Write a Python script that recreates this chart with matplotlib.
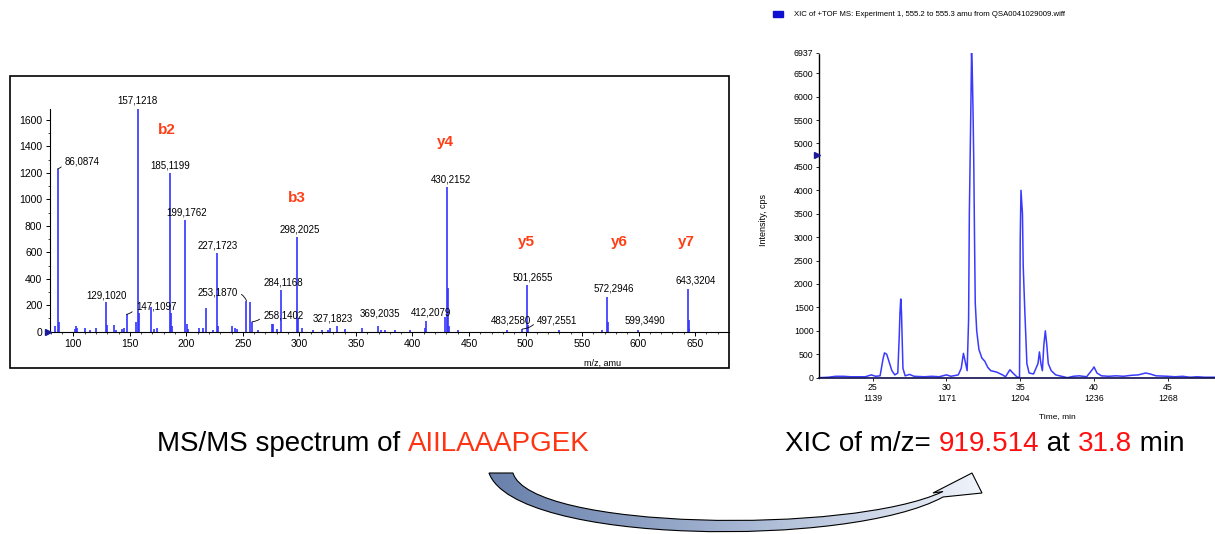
import numpy as np
import matplotlib
matplotlib.use("Agg")
import matplotlib.pyplot as plt
from matplotlib.path import Path
from matplotlib.patches import PathPatch, Rectangle
from matplotlib.colors import LinearSegmentedColormap

plt.rcParams['font.family'] = ['Liberation Sans', 'DejaVu Sans']

# ---- MS/MS spectrum (m/z, intensity) ----
ms_mz = [84.0, 86.0874, 87.1, 101.5, 102.1, 103.0, 110.1, 115.0, 120.1, 129.1020,
         130.1, 136.1, 138.0, 143.1, 145.0, 147.1097, 155.1, 157.1218, 158.1, 169.1,
         171.0, 174.0, 185.1199, 186.1, 187.1, 199.1762, 200.2, 201.2, 211.1, 215.0,
         217.1, 224.0, 227.1723, 228.2, 240.1, 243.0, 245.0, 253.1870, 256.2, 258.1402,
         263.0, 276.2, 277.0, 280.0, 284.1168, 298.2025, 299.2, 302.2, 312.0, 320.0,
         325.0, 327.1823, 333.2, 340.0, 355.0, 369.2035, 372.0, 376.0, 385.0, 398.0,
         411.2, 412.2079, 429.2, 430.2152, 431.2, 432.2, 440.0, 483.2580, 497.2551,
         501.2655, 502.3, 530.0, 568.0, 572.2946, 573.3, 599.3490, 643.3204, 644.3, 645.0]
ms_int = [45, 1230, 70, 20, 40, 25, 25, 15, 25, 227,
          50, 50, 15, 20, 25, 131, 70, 1680, 140, 190,
          20, 25, 1200, 140, 40, 845, 60, 20, 30, 25,
          180, 15, 593, 40, 40, 25, 20, 234, 225, 75,
          15, 55, 60, 20, 315, 718, 100, 30, 10, 10,
          15, 30, 45, 20, 25, 40, 15, 10, 10, 10,
          30, 83, 110, 1096, 330, 40, 10, 15, 20,
          353, 50, 10, 10, 265, 70, 15, 323, 88, 20]

# labelled peaks and where their labels sit (data units)
lab_mz = [157.1218, 185.1199, 199.1762, 227.1723, 298.2025, 284.1168, 129.1020,
          327.1823, 369.2035, 412.2079, 430.2152, 483.2580, 501.2655, 572.2946,
          599.3490, 643.3204]
lab_x = [156.7, 185.6, 200.4, 227.9, 300.2, 285.9, 129.2,
         329.3, 371.4, 416.1, 434.1, 487.3, 506.0, 578.3, 605.6, 650.7]
lab_y = [1744, 1255, 900, 648, 774, 373, 277,
         101, 136, 144, 1152, 88, 408, 328, 83, 386]

# labels with leader lines: peak, label x, label y, alignment
lead_mz = [86.0874, 147.1097, 253.1870, 258.1402, 497.2551]
lead_x = [92.7, 155.5, 245.2, 268.2, 510.4]
lead_y = [1290, 189, 295, 126, 88]
lead_ha = ['left', 'left', 'right', 'left', 'left']

ions = ['b2', 'b3', 'y4', 'y5', 'y6', 'y7']
ion_x = [183.2, 298.2, 429.6, 500.6, 582.9, 642.0]
ion_y = [1525, 1008, 1436, 680, 680, 680]

# ---- XIC trace ----
xic_t = [21.4, 22.0, 22.5, 23.0, 23.5, 24.0, 24.5, 24.9, 25.2, 25.5,
         25.7, 25.8, 25.95, 26.1, 26.3, 26.5, 26.7, 26.8, 26.85, 26.9,
         26.95, 27.0, 27.05, 27.2, 27.5, 27.8, 28.5, 29.0, 29.5, 30.0,
         30.3, 30.8, 31.0, 31.15, 31.3, 31.4, 31.5, 31.55, 31.65, 31.7,
         31.75, 31.8, 31.85, 31.9, 31.95, 32.05, 32.2, 32.4, 32.6, 32.8,
         33.0, 33.4, 33.8, 34.0, 34.3, 34.5, 34.8, 34.95, 35.0, 35.05,
         35.15, 35.2, 35.3, 35.45, 35.6, 35.9, 36.2, 36.3, 36.4, 36.5,
         36.6, 36.7, 36.8, 36.9, 37.1, 37.4, 37.8, 38.2, 38.6, 39.0,
         39.5, 39.9, 40.0, 40.2, 40.5, 41.0, 41.5, 42.0, 42.5, 43.0,
         43.5, 43.8, 44.2, 45.0, 45.5, 46.0, 46.5, 47.0, 47.5, 48.2]
xic_i = [0, 10, 30, 30, 20, 20, 20, 60, 30, 40,
         400, 530, 500, 350, 150, 60, 100, 900, 1400, 1680,
         1400, 800, 200, 40, 70, 30, 20, 30, 20, 60,
         30, 60, 200, 520, 300, 150, 1250, 3500, 5700, 6937,
         6500, 5700, 4600, 3000, 1600, 1000, 600, 420, 350, 220,
         150, 120, 60, 20, 170, 100, 10, 10, 3000, 4000,
         3500, 2400, 1500, 300, 100, 80, 300, 550, 300, 150,
         700, 1000, 700, 300, 150, 60, 30, 0, 30, 40,
         20, 180, 230, 100, 40, 30, 40, 30, 50, 60,
         100, 80, 40, 30, 20, 30, 10, 20, 10, 10]
xic_ticks = [25, 30, 35, 40, 45]
xic_scans = ['1139', '1171', '1204', '1236', '1268']
xic_yticks = [0, 500, 1000, 1500, 2000, 2500, 3000, 3500, 4000, 4500, 5000, 5500, 6000, 6500, 6937]

W, H = 1215, 534
fig = plt.figure(figsize=(W / 100, H / 100), dpi=100)

def px_axes(l, t, r, b):
    return fig.add_axes([l / W, 1 - b / H, (r - l) / W, (b - t) / H])

blue = '#3333ff'
red_ion = '#ff4016'

# ---------------- spectrum ----------------
ax = px_axes(50, 109.3, 729, 331.7)
ax.vlines(ms_mz, 0, ms_int, color=blue, lw=1.2)
ax.set_xlim(79.4, 680)
ax.set_ylim(0, 1681)
ax.spines[['top', 'right']].set_visible(False)
ax.spines[['left', 'bottom']].set_linewidth(0.8)
ax.set_xticks(np.arange(100, 651, 50))
ax.set_yticks(np.arange(0, 1601, 200))
ax.set_xticks(np.arange(80, 680, 10), minor=True)
ax.set_yticks(np.arange(0, 1681, 100), minor=True)
ax.tick_params(labelsize=7.5, length=3, width=0.7, pad=2.5)
ax.tick_params(which='minor', length=1.5, width=0.5)
ax.set_xlabel('m/z, amu', fontsize=6.5)
ax.xaxis.set_label_coords(0.814, -0.12)

for m, x, y in zip(lab_mz, lab_x, lab_y):
    ax.text(x, y, f"{m:.4f}".replace('.', ','), fontsize=7, ha='center',
            va='center', clip_on=False)
for m, x, y, ha in zip(lead_mz, lead_x, lead_y, lead_ha):
    top = ms_int[ms_mz.index(m)]
    rel = (0, 0.5) if ha == 'left' else (1, 0.5)
    ax.annotate(f"{m:.4f}".replace('.', ','), xy=(m, top), xytext=(x, y),
                fontsize=7, ha=ha, va='center',
                arrowprops=dict(arrowstyle='-', lw=0.6, color='black',
                                connectionstyle='arc3,rad=-0.25', relpos=rel,
                                shrinkA=1, shrinkB=0))
for s, x, y in zip(ions, ion_x, ion_y):
    ax.text(x, y, s, color=red_ion, fontsize=11, fontweight='bold',
            ha='center', va='center')

# ---------------- XIC ----------------
ax2 = px_axes(819, 52.7, 1215, 377.7)
ax2.plot(xic_t, xic_i, color='#3a3aff', lw=1.1)
ax2.set_xlim(21.36, 48.2)
ax2.set_ylim(0, 6937)
ax2.spines[['top', 'right']].set_visible(False)
ax2.spines['left'].set_linestyle((0, (1, 1)))
ax2.spines['left'].set_linewidth(1.0)
ax2.spines['bottom'].set_color('#10104a')
ax2.spines['bottom'].set_linewidth(1.2)
ax2.set_yticks(xic_yticks)
ax2.set_yticklabels([str(v) for v in xic_yticks])
ax2.set_xticks(xic_ticks)
ax2.set_xticklabels([f"{t}\n{s}" for t, s in zip(xic_ticks, xic_scans)],
                    linespacing=1.3)
ax2.tick_params(labelsize=6.3, length=2, width=0.6, pad=2)
ax2.set_xlabel('Time, min', fontsize=6)
ax2.xaxis.set_label_coords(0.601, -0.109)
ax2.set_ylabel('Intensity, cps', fontsize=6.5)
ax2.yaxis.set_label_coords(-0.129, 0.485)

# ---------------- overlay (frame, legend, arrow, captions) ----------------
ov = fig.add_axes([0, 0, 1, 1], facecolor='none')
ov.set_xlim(0, W)
ov.set_ylim(H, 0)
ov.axis('off')

ov.add_patch(Rectangle((10, 76), 719, 292, fill=False, lw=1.2, ec='black'))
ov.plot([47.5], [332], marker='>', ms=5, color='#1a1a9a', clip_on=False)
ov.plot([817], [155], marker='>', ms=5, color='#1a1a9a', clip_on=False)

ov.add_patch(Rectangle((773, 11), 10, 6, color='#1010d0'))
ov.text(794, 14.5, 'XIC of +TOF MS: Experiment 1, 555.2 to 555.3 amu from QSA0041029009.wiff',
        fontsize=5.6, va='center', ha='left')

# curved block arrow with gradient fill
verts = [(489, 473), (515, 545), (850, 548), (943, 497),
         (982, 493), (972, 473), (933, 493), (943, 491.5),
         (850, 535), (530, 530), (513, 473), (489, 473)]
codes = [Path.MOVETO, Path.CURVE4, Path.CURVE4, Path.CURVE4,
         Path.LINETO, Path.LINETO, Path.LINETO, Path.LINETO,
         Path.CURVE4, Path.CURVE4, Path.CURVE4, Path.CLOSEPOLY]
arrow = PathPatch(Path(verts, codes), fc='none', ec='black', lw=0.8, zorder=3)
ov.add_patch(arrow)
cmap = LinearSegmentedColormap.from_list('arr', ['#6880ab', '#a4b4d2', '#f0f4fb'])
grad = np.linspace(0, 1, 256).reshape(1, -1)
im = ov.imshow(grad, cmap=cmap, extent=(489, 982, 540, 470), aspect='auto', zorder=2)
im.set_clip_path(arrow)
ov.set_xlim(0, W)
ov.set_ylim(H, 0)

# captions with coloured parts
renderer = fig.canvas.get_renderer()

def text_width(s, size):
    if not s:
        return 0.0
    t = fig.text(0, 0, s + '|', fontsize=size)
    b = fig.text(0, 0, '|', fontsize=size)
    w = t.get_window_extent(renderer).width - b.get_window_extent(renderer).width
    t.remove()
    b.remove()
    return w

def caption(x, y, parts, size=20):
    done = ''
    for s, c in parts:
        off = text_width(done, size)
        fig.text((x + off) / W, 1 - y / H, s, color=c, fontsize=size,
                 va='baseline', ha='left')
        done += s

caption(156.5, 451, [('MS/MS spectrum of ', 'black'), ('AIILAAAPGEK', '#ff3311')])
caption(785, 451, [('XIC of m/z= ', 'black'), ('919.514', '#ff1010'),
                   (' at ', 'black'), ('31.8', '#ff1010'), (' min', 'black')])

fig.savefig('out.png', dpi=100)
